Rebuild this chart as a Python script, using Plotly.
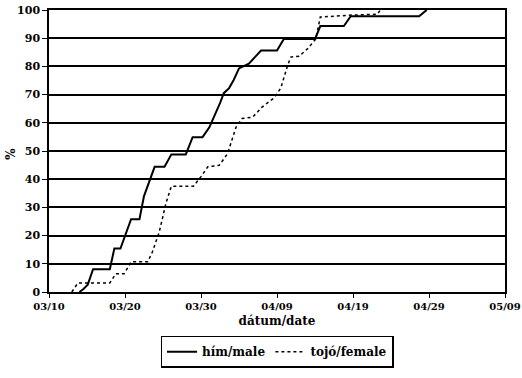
import plotly.graph_objects as go

# days after 03/10
male_days = [4.0, 4.5, 5.1, 5.8, 8.0, 8.6, 9.4, 10.8, 11.9, 12.5, 13.9, 15.2, 16.1, 18.0, 18.9,
             20.2, 21.1, 21.8, 22.5, 23.0, 23.7, 24.3, 25.0, 26.3, 27.9, 30.0, 30.9, 35.0, 35.7,
             38.8, 39.7, 48.7, 49.7]
male_pct = [0, 1, 2.6, 8.1, 8.1, 15.4, 15.4, 25.8, 25.8, 34, 44.4, 44.4, 48.8, 48.8, 54.9,
            54.9, 58.4, 62.5, 67, 70.5, 72.3, 75.2, 79.3, 81.0, 85.6, 85.6, 89.7, 89.7, 94.3,
            94.3, 97.8, 97.8, 100]

female_days = [3.0, 3.8, 8.0, 8.8, 9.9, 10.8, 13.0, 13.6, 14.5, 15.4, 16.1, 19.0, 20.0, 20.9,
               22.4, 23.5, 24.6, 25.4, 26.8, 28.0, 29.6, 30.5, 31.4, 31.8, 32.9, 34.0, 35.1,
               35.7, 39.9, 43.2, 43.6]
female_pct = [0, 3.2, 3.2, 6.5, 6.5, 10.7, 10.7, 14.2, 21.2, 31.6, 37.5, 37.5, 40.9, 44.4,
              44.9, 49.1, 58.4, 61.5, 62.0, 65.5, 68.8, 72.3, 80.4, 83.3, 83.6, 86.2, 89.7,
              97.5, 98.2, 98.5, 100]

tick_days = [0, 10, 20, 30, 40, 50, 60]
tick_labels = ["03/10", "03/20", "03/30", "04/09", "04/19", "04/29", "05/09"]
y_ticks = [0, 10, 20, 30, 40, 50, 60, 70, 80, 90, 100]

FONT = "DejaVu Serif"

fig = go.Figure()
fig.add_trace(go.Scatter(x=male_days, y=male_pct, mode="lines", name="hím/male",
                         line=dict(color="black", width=2)))
fig.add_trace(go.Scatter(x=female_days, y=female_pct, mode="lines", name="tojó/female",
                         line=dict(color="black", width=1.5, dash="dot")))

fig.update_layout(
    width=522, height=378,
    margin=dict(l=49, r=17, t=10, b=81),
    paper_bgcolor="white", plot_bgcolor="white",
    font=dict(family=FONT, size=11, color="black", weight="bold"),
    showlegend=True,
    legend=dict(orientation="h", x=0.5, xanchor="center", y=-0.155, yanchor="top",
                bordercolor="black", borderwidth=1.5,
                font=dict(family=FONT, size=12, weight="bold"),
                itemwidth=30),
    annotations=[dict(text="%", xref="paper", yref="paper", x=-38 / 456, y=0.49,
                      xanchor="center", yanchor="middle", showarrow=False, textangle=-90,
                      font=dict(family=FONT, size=12, weight="bold"))],
)
fig.update_xaxes(range=[0, 60], tickvals=tick_days, ticktext=tick_labels, automargin=False,
                 ticklabeloverflow="allow",
                 showline=True, linecolor="black", linewidth=1.5, mirror=True,
                 ticks="outside", ticklen=4, tickcolor="black", showgrid=False, zeroline=False,
                 title=dict(text="dátum/date", font=dict(family=FONT, size=12, weight="bold"),
                            standoff=6),
                 tickfont=dict(family=FONT, size=10, weight="bold"))
fig.update_yaxes(range=[0, 100], tickvals=y_ticks, automargin=False,
                 ticklabeloverflow="allow",
                 showline=True, linecolor="black", linewidth=1.5, mirror=True,
                 ticks="outside", ticklen=5, tickcolor="black",
                 showgrid=True, gridcolor="black", gridwidth=1.5, zeroline=False,
                 tickfont=dict(family=FONT, size=11, weight="bold"))

fig.write_html("out.html", config={"displayModeBar": False},
               post_script="document.body.style.margin='0';document.body.style.overflow='hidden';")
